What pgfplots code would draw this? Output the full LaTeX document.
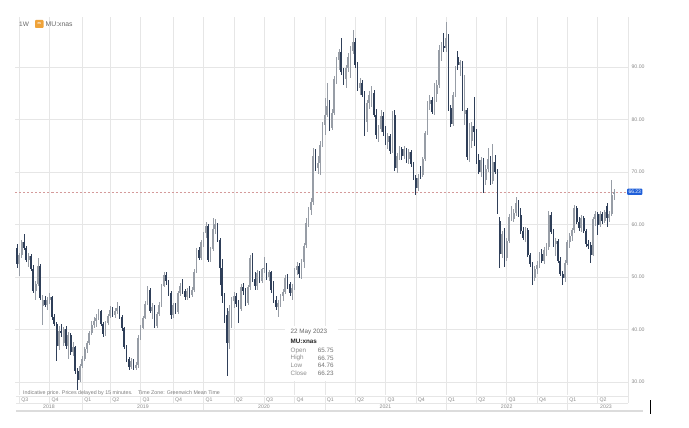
\documentclass[border=0pt]{standalone}
\usepackage{fontspec}
\setmainfont{Liberation Sans}
\usepackage{pgfplots}
\usepackage{pgfplotstable}
\pgfplotsset{compat=1.18}

\definecolor{upc}{HTML}{979DA6}
\definecolor{dnc}{HTML}{2F3F59}
\definecolor{gridc}{HTML}{E6E6E6}
\definecolor{labc}{HTML}{8A8A8A}
\definecolor{redd}{HTML}{D49A9A}
\definecolor{pblue}{HTML}{1F5FD9}
\definecolor{iconc}{HTML}{EFA33A}
\definecolor{barc}{HTML}{DCDCDC}

% weekly candles, week 0 = 25 Jun 2018
\pgfplotstableread{
w O H L C
0 55.5 56.3 51.8 52.4
1 52.4 54.6 50.1 54.1
2 54.1 57.0 53.6 56.6
3 56.6 58.1 55.2 55.6
4 55.6 55.9 52.8 53.2
5 53.2 54.5 52.0 54.0
6 54.0 54.3 51.2 51.6
7 51.6 52.2 47.0 47.4
8 47.4 49.2 45.6 48.7
9 48.7 53.6 48.3 52.0
10 52.0 52.4 45.6 46.0
11 44.5 46.5 40.8 45.6
12 45.6 46.3 44.2 44.6
13 44.6 46.1 43.8 45.7
14 45.7 47.0 44.8 46.2
15 46.2 46.4 41.9 42.4
16 42.4 43.0 40.6 41.0
17 41.0 41.5 34.0 36.8
18 36.8 40.6 36.0 39.8
19 39.8 41.0 38.6 39.4
20 37.4 40.5 36.8 40.0
21 40.0 40.6 36.3 36.8
22 36.8 39.6 34.3 38.9
23 38.9 39.4 35.2 35.8
24 35.8 37.6 35.0 36.6
25 36.6 36.9 31.6 32.0
26 32.0 32.6 28.4 30.4
27 30.4 33.5 30.0 33.0
28 33.0 35.0 32.6 34.4
29 34.4 36.6 34.0 36.2
30 36.2 37.9 35.6 37.4
31 37.4 39.8 37.0 39.4
32 39.4 41.6 38.9 40.8
33 40.8 42.4 40.2 41.6
34 41.6 42.9 40.5 42.2
35 42.2 43.9 41.8 43.5
36 43.5 43.7 40.6 41.0
37 41.0 41.4 38.6 39.2
38 39.2 41.7 38.8 41.2
39 41.2 42.9 40.8 42.5
40 42.5 44.4 42.1 43.8
41 43.8 44.3 42.3 42.7
42 42.7 44.0 42.2 43.6
43 43.6 45.2 43.0 44.1
44 44.1 44.4 42.0 42.4
45 42.4 42.7 39.8 40.2
46 40.2 40.5 36.3 36.6
47 36.6 37.0 33.8 34.3
48 34.3 34.7 32.3 32.8
49 32.8 34.6 32.4 34.0
50 34.0 34.4 32.3 32.7
51 32.7 33.8 32.2 33.3
52 33.3 38.9 32.6 38.4
53 38.4 40.8 38.0 40.3
54 40.3 42.6 40.0 42.2
55 42.2 45.4 42.0 44.8
56 44.8 48.2 44.6 47.6
57 47.6 47.9 43.2 43.6
58 43.6 45.0 42.0 44.3
59 44.3 44.6 40.2 40.6
60 40.6 43.3 40.2 42.9
61 42.9 45.3 42.5 44.7
62 44.7 48.7 44.2 48.3
63 48.3 50.9 48.0 50.4
64 50.4 51.0 48.4 49.2
65 49.2 49.5 46.4 46.9
66 46.9 47.3 42.0 42.8
67 42.8 45.0 42.2 44.6
68 44.6 45.0 43.0 43.4
69 43.4 47.4 43.0 46.9
70 46.9 48.8 46.4 48.3
71 48.3 49.6 46.8 47.3
72 47.3 47.8 45.6 46.2
73 46.2 47.9 45.6 47.4
74 47.4 48.3 46.0 46.6
75 46.6 48.0 46.2 47.6
76 47.6 51.5 47.2 51.0
77 51.0 55.6 50.8 55.2
78 55.2 55.8 53.2 53.6
79 53.6 57.0 53.3 56.6
80 56.6 58.6 55.8 58.3
81 58.3 60.4 57.4 59.8
82 59.8 60.0 52.8 53.2
83 53.2 55.8 52.9 55.4
84 55.4 61.2 55.0 59.2
85 59.2 61.0 58.1 60.0
86 60.0 60.2 56.6 57.0
87 57.0 57.4 48.5 51.7
88 51.7 53.4 45.0 46.4
89 46.4 46.9 41.2 42.8
90 42.8 44.0 31.1 37.5
91 37.5 44.6 36.2 43.6
92 42.0 46.1 40.2 45.4
93 45.4 47.2 44.0 46.4
94 46.4 47.0 44.3 44.8
95 44.8 45.6 41.2 43.9
96 43.9 48.6 43.5 48.0
97 48.0 48.8 46.6 47.4
98 47.4 47.9 44.5 45.0
99 45.0 48.4 44.6 48.0
100 48.0 54.2 47.6 53.6
101 53.6 54.5 49.0 49.6
102 49.6 51.0 47.5 48.3
103 48.3 51.4 47.6 50.8
104 50.8 51.2 48.8 49.2
105 49.2 51.8 48.8 51.5
106 51.5 53.9 50.8 51.8
107 51.8 52.6 49.4 50.0
108 50.0 51.4 49.2 50.9
109 50.9 51.2 47.0 47.5
110 47.5 49.2 45.0 45.6
111 45.6 46.4 43.8 44.2
112 44.2 45.6 42.4 45.0
113 45.0 46.8 44.2 46.3
114 46.3 47.8 45.4 47.2
115 47.2 50.4 46.8 49.8
116 49.8 50.6 47.8 48.6
117 48.6 49.0 46.4 46.9
118 46.9 48.6 45.6 47.9
119 47.9 51.8 47.6 51.3
120 51.3 52.8 50.4 52.1
121 52.1 52.6 49.8 50.5
122 50.5 53.4 49.6 52.8
123 52.8 56.5 51.8 56.0
124 56.0 61.2 55.6 60.2
125 60.2 63.4 59.6 62.8
126 62.8 65.0 61.8 64.2
127 64.2 74.6 63.8 73.0
128 73.0 74.3 70.2 70.8
129 70.8 73.0 69.6 71.8
130 71.8 75.9 69.4 75.2
131 75.2 79.5 74.8 78.9
132 78.9 84.0 77.0 80.9
133 80.9 87.0 80.4 82.6
134 82.6 83.8 77.8 78.4
135 78.4 82.0 78.0 81.2
136 81.2 88.3 80.8 87.8
137 87.8 92.0 86.8 91.4
138 91.4 93.4 89.4 92.8
139 92.8 95.5 88.4 89.1
140 89.1 89.8 86.6 87.8
141 87.8 90.4 86.0 89.9
142 89.9 92.6 89.0 92.0
143 92.0 94.0 88.0 93.0
144 93.0 97.0 92.5 94.8
145 94.8 95.6 89.8 90.4
146 90.4 90.9 85.4 86.0
147 86.0 88.0 84.6 87.0
148 87.0 87.6 84.2 84.7
149 84.7 85.4 76.8 79.6
150 79.6 83.8 77.6 83.2
151 83.2 85.4 82.0 84.6
152 84.6 86.3 82.4 85.1
153 85.1 85.6 80.4 80.9
154 80.9 82.0 76.2 77.0
155 77.0 79.0 75.8 78.2
156 78.2 81.8 77.6 80.6
157 80.6 81.4 76.8 77.7
158 77.7 78.8 75.2 75.8
159 75.8 77.4 74.4 76.9
160 76.9 77.2 73.4 74.0
161 74.0 81.6 73.6 80.9
162 80.9 81.8 70.2 70.7
163 70.7 73.6 69.8 73.0
164 73.0 75.0 72.2 74.4
165 74.4 74.8 72.2 73.0
166 73.0 74.9 72.4 74.3
167 74.3 74.6 71.8 72.4
168 72.4 74.4 71.6 73.8
169 73.8 74.2 71.0 71.6
170 71.6 71.9 68.4 68.8
171 68.8 69.4 65.6 67.0
172 67.0 69.6 66.4 68.9
173 70.4 71.2 68.6 69.4
174 69.4 72.9 69.0 72.5
175 72.5 77.9 72.0 77.4
176 77.4 83.6 77.0 83.0
177 83.0 84.6 81.8 83.8
178 83.8 84.2 81.0 81.5
179 81.5 87.0 80.8 84.8
180 84.8 87.6 83.4 86.6
181 86.6 94.2 86.0 93.2
182 93.2 94.8 91.2 94.0
183 94.0 96.4 92.8 93.6
184 93.6 98.5 92.8 95.6
185 95.6 96.2 81.6 82.1
186 82.1 82.8 78.6 79.2
187 79.2 85.2 78.8 84.7
188 84.7 90.2 84.2 89.6
189 92.0 93.0 89.4 90.4
190 90.4 91.4 88.2 90.9
191 90.9 91.2 81.6 82.1
192 81.0 88.5 79.0 81.8
193 81.8 82.2 72.2 72.8
194 72.8 79.4 72.0 76.0
195 76.0 79.6 74.6 78.8
196 78.8 84.2 75.0 77.6
197 77.6 78.2 71.6 72.2
198 72.2 73.4 69.6 70.0
199 70.0 72.8 69.0 72.2
200 72.2 72.6 66.0 68.4
201 68.4 71.4 67.6 70.6
202 70.6 74.5 70.0 72.4
203 72.4 73.0 67.6 68.2
204 68.2 75.4 67.8 71.9
205 71.9 73.2 69.6 70.0
206 70.0 70.6 62.0 62.6
207 60.6 61.4 51.8 54.4
208 54.4 58.8 53.6 58.2
209 58.2 59.4 52.0 53.6
210 53.6 57.4 53.0 56.8
211 56.8 62.0 56.4 61.4
212 61.4 63.6 60.6 62.8
213 61.0 63.0 60.4 62.2
214 62.2 65.3 61.6 64.1
215 64.1 64.6 61.4 61.8
216 61.8 63.2 58.2 58.8
217 58.8 59.6 57.0 57.4
218 57.4 59.6 56.6 59.0
219 59.0 59.4 53.8 54.2
220 54.2 54.6 52.0 52.4
221 52.4 52.8 48.4 49.8
222 49.8 52.0 49.2 51.6
223 51.6 53.0 50.6 52.2
224 52.2 54.8 51.8 54.4
225 54.4 55.4 52.6 53.0
226 53.0 55.8 52.4 55.2
227 55.2 56.4 54.0 55.8
228 55.8 62.6 55.2 61.8
229 61.8 62.4 58.2 58.6
230 58.6 59.2 55.8 56.2
231 56.2 57.4 54.0 56.8
232 56.8 57.2 52.6 53.0
233 53.0 53.8 50.2 50.6
234 50.6 51.2 48.4 49.8
235 49.8 53.2 49.0 52.6
236 52.6 57.0 52.2 56.6
237 56.6 58.4 55.6 57.8
238 57.8 59.4 56.8 58.9
239 58.9 63.8 58.4 63.2
240 63.2 63.6 60.0 60.4
241 60.4 61.4 58.8 59.3
242 59.3 61.8 58.6 61.2
243 61.2 61.6 58.4 58.8
244 58.8 59.2 55.8 56.2
245 56.2 57.0 55.4 56.0
246 56.0 56.6 52.6 54.2
247 54.2 61.4 54.0 61.0
248 61.0 62.6 59.8 62.0
249 62.0 62.4 58.0 60.0
250 60.0 62.6 59.6 62.0
251 62.0 62.4 60.0 60.6
252 60.6 62.8 60.2 62.4
253 63.6 64.0 59.6 61.2
254 61.2 62.6 60.4 62.0
255 62.0 68.4 61.6 65.6
256 65.75 66.75 64.76 66.23
}\candles

\tikzset{
  lab/.style={font=\fontsize{5.2}{6}\selectfont, text=labc, inner sep=0pt},
  tip/.style={font=\fontsize{6.3}{7}\selectfont, inner sep=0pt, anchor=west},
}

\begin{document}
\begin{tikzpicture}
\useasboundingbox (0,0) rectangle (689pt,-428pt);

\begin{axis}[
  at={(15.5pt,-17pt)}, anchor=north west,
  scale only axis, width=612.5pt, height=378pt,
  xmin=-0.643, xmax=262.0, ymin=27.524, ymax=99.524,
  axis line style={draw=none},
  tick style={draw=none},
  xtick={1,14,28,40,53,67,80,93,106,119,132,145,158,171,184,197,210,223,236,249},
  xticklabels={},
  ytick={30,40,50,60,70,80,90},
  yticklabel pos=right,
  y tick label style={/pgf/number format/fixed, /pgf/number format/fixed zerofill, /pgf/number format/precision=2},
  yticklabel style={font=\fontsize{5.2}{6}\selectfont, text=labc, anchor=west},
  /pgf/number format/assume math mode=true,
  grid=major, major grid style={gridc, line width=0.5pt},
  clip mode=individual,
]
\draw[redd, dash pattern=on 2pt off 2pt, line width=0.45pt] (axis cs:-0.643,66.23) -- (axis cs:262,66.23);

% wicks
\addplot[draw=none, mark=none, forget plot, restrict y to domain=0:200,
  error bars/.cd, y dir=both, y explicit, error mark=none,
  error bar style={draw=upc, solid, line width=0.6pt}]
  table[x=w, y expr={\thisrow{C}>=\thisrow{O} ? (\thisrow{H}+\thisrow{L})/2 : 500},
        y error expr={(\thisrow{H}-\thisrow{L})/2}] {\candles};
\addplot[draw=none, mark=none, forget plot, restrict y to domain=0:200,
  error bars/.cd, y dir=both, y explicit, error mark=none,
  error bar style={draw=dnc, solid, line width=0.6pt}]
  table[x=w, y expr={\thisrow{C}<\thisrow{O} ? (\thisrow{H}+\thisrow{L})/2 : 500},
        y error expr={(\thisrow{H}-\thisrow{L})/2}] {\candles};
% bodies
\addplot[draw=none, mark=none, forget plot, restrict y to domain=0:200,
  error bars/.cd, y dir=both, y explicit, error mark=none,
  error bar style={draw=upc, solid, line width=1.75pt}]
  table[x=w, y expr={\thisrow{C}>=\thisrow{O} ? (\thisrow{O}+\thisrow{C})/2 : 500},
        y error expr={abs(\thisrow{C}-\thisrow{O})/2}] {\candles};
\addplot[draw=none, mark=none, forget plot, restrict y to domain=0:200,
  error bars/.cd, y dir=both, y explicit, error mark=none,
  error bar style={draw=dnc, solid, line width=1.75pt}]
  table[x=w, y expr={\thisrow{C}<\thisrow{O} ? (\thisrow{O}+\thisrow{C})/2 : 500},
        y error expr={abs(\thisrow{C}-\thisrow{O})/2}] {\candles};
\end{axis}

% frame and date rows
\draw[gridc, line width=0.5pt] (628pt,-17pt) -- (628pt,-403pt);
\draw[gridc, line width=0.5pt] (16pt,-396.5pt) -- (628pt,-396.5pt);
\draw[gridc, line width=0.5pt] (16pt,-403pt) -- (628pt,-403pt);
\fill[barc] (16pt,-410pt) rectangle (643pt,-412pt);
\foreach \xq in {19.3,49.6,110.3,140.6,173.2,233.9,264.2,294.5,355.1,385.5,415.8,476.4,506.7,537.0,597.7}
  \draw[gridc, line width=0.5pt] (\xq pt,-396.5pt) -- (\xq pt,-403pt);
\foreach \xq in {82.3,203.6,324.8,446.0,567.4}
  \draw[gridc, line width=0.5pt] (\xq pt,-396.5pt) -- (\xq pt,-410pt);
\foreach \xq/\q in {19.3/Q3,49.6/Q4,82.3/Q1,110.3/Q2,140.6/Q3,173.2/Q4,203.6/Q1,233.9/Q2,264.2/Q3,294.5/Q4,324.8/Q1,355.1/Q2,385.5/Q3,415.8/Q4,446.0/Q1,476.4/Q2,506.7/Q3,537.0/Q4,567.4/Q1,597.7/Q2}
  \node[lab, anchor=west] at (\xq pt+1.8pt,-399.7pt) {\q};
\foreach \xy/\y in {49/2018,143/2019,264/2020,385.4/2021,506.7/2022,606/2023}
  \node[lab] at (\xy pt,-407pt) {\y};

\node[lab, anchor=west, font=\fontsize{5.3}{6}\selectfont, text=labc!90!black] at (23pt,-393pt) {Indicative price. Prices delayed by 15 minutes.};
\node[lab, anchor=west, font=\fontsize{5.3}{6}\selectfont, text=labc!90!black] at (138pt,-393pt) {Time Zone: Greenwich Mean Time};

% header
\node[anchor=west, inner sep=0pt, font=\fontsize{6.5}{7}\selectfont, text=black!60] at (19pt,-24pt) {1W};
\fill[iconc, rounded corners=0.8pt] (35pt,-20pt) rectangle (43.5pt,-28pt);
\node[inner sep=0pt, font=\fontsize{3.6}{4}\selectfont\bfseries, text=white] at (39.25pt,-24pt) {m};
\node[anchor=west, inner sep=0pt, font=\fontsize{6.8}{7}\selectfont, text=black!60] at (45.5pt,-24pt) {MU:xnas};

% last price tag
\node[fill=pblue, text=white, font=\fontsize{5}{6}\selectfont, inner xsep=1.3pt, inner ysep=1.4pt,
      anchor=west, rounded corners=0.8pt] at (627pt,-191.8pt) {66.23};

% tooltip
\fill[white] (285pt,-325.5pt) rectangle (338pt,-381pt);
\node[tip, text=black!60] at (290.5pt,-331.5pt) {22 May 2023};
\node[tip, text=black!85, font=\fontsize{6.3}{7}\selectfont\bfseries] at (290.5pt,-341.5pt) {MU:xnas};
\foreach \yy/\k/\v in {350.7/Open/65.75,358.2/High/66.75,365.7/Low/64.76,373.2/Close/66.23}{
  \node[tip, text=black!45] at (290.5pt,-\yy pt) {\k};
  \node[tip, text=black!55] at (317.7pt,-\yy pt) {\v};
}

% cursor mark
\draw[black, line width=0.9pt] (650pt,-400pt) -- (650pt,-414pt);
\end{tikzpicture}
\end{document}
